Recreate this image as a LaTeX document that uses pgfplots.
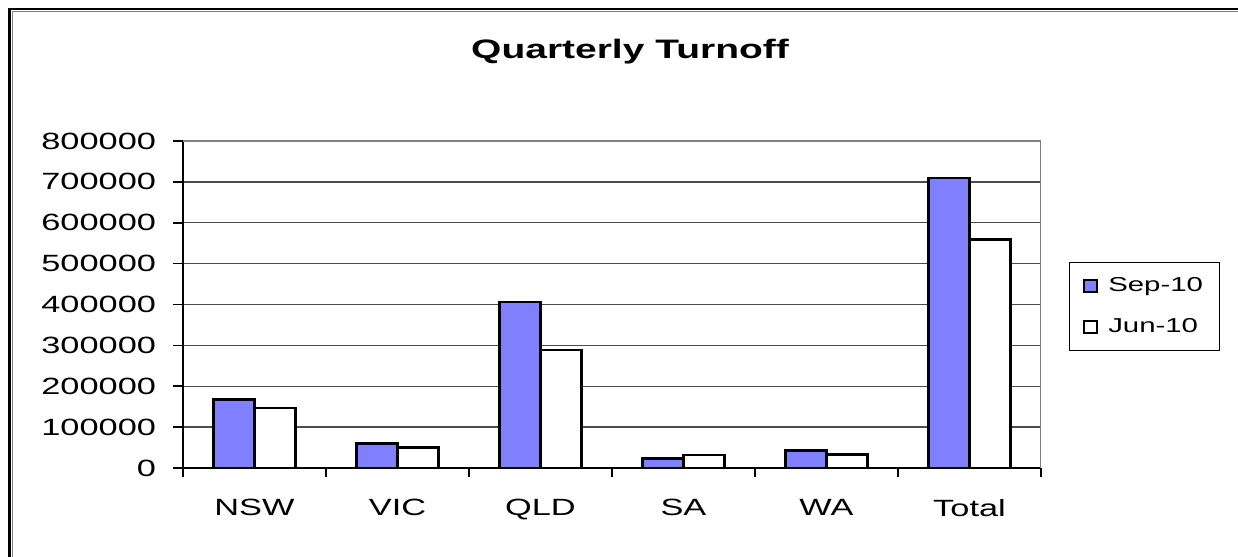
\documentclass[border=0pt]{standalone}
\usepackage{fontspec}
\setmainfont[FakeStretch=1.46]{Liberation Sans}
\usepackage{pgfplots}
\pgfplotsset{compat=1.18}
\definecolor{barblue}{RGB}{128,128,255}
\begin{document}
\begin{tikzpicture}
\useasboundingbox (0,0) rectangle (619bp,278.5bp);
% outer frame
\draw[black,line width=1.4bp] (4.6bp,0) -- (4.6bp,274bp) -- (619bp,274bp);
\draw[gray,line width=0.6bp] (6.2bp,0) -- (6.2bp,272.6bp) -- (619bp,272.6bp);
\node[font=\fontsize{13.4}{16}\selectfont\bfseries] at (315bp,252.5bp) {Quarterly Turnoff};
\begin{axis}[
  at={(91.5bp,44.5bp)}, anchor=south west,
  width=429bp, height=163.5bp, scale only axis,
  ybar=0pt, bar width=20.5bp,
  xmin=-0.5, xmax=5.5, ymin=0, ymax=800000,
  xtick={0,...,5},
  xticklabels={NSW,VIC,QLD,SA,WA,Total},
  minor xtick={-0.5,0.5,...,5.5},
  ytick={0,100000,200000,300000,400000,500000,600000,700000,800000},
  yticklabels={0,100000,200000,300000,400000,500000,600000,700000,800000},
  scaled y ticks=false,
  axis x line*=bottom, axis y line*=left,
  axis line style={black,line width=0.8bp},
  tick align=outside,
  major tick length=5bp, minor tick length=4.5bp,
  major x tick style={draw=none},
  minor x tick style={black,line width=0.8bp},
  major y tick style={black,line width=0.8bp},
  ymajorgrids, major grid style={black!70,line width=0.65bp},
  ticklabel style={font=\fontsize{11.8}{14}\selectfont},
  yticklabel style={xshift=-5bp},
  xticklabel style={yshift=-7bp},
  legend style={at={(1.0326,0.63)}, anchor=north west, draw=black, line width=0.5bp,
    font=\fontsize{10.1}{12}\selectfont, inner xsep=7bp, inner ysep=6.5bp, row sep=10bp,
    column sep=4bp, nodes={inner sep=1bp}},
  legend cell align=left,
  legend image code/.code={\draw[#1,line width=0.9bp] (0bp,-3bp) rectangle (6.5bp,3bp);},
]
\addplot[draw=black, fill=barblue, line width=1.3bp] coordinates {
 (0,168300) (1,59800) (2,406600) (3,23700) (4,42400) (5,709800)};
\addplot[draw=black, fill=white, line width=1.3bp] coordinates {
 (0,146300) (1,49500) (2,288800) (3,31700) (4,33600) (5,559500)};
\legend{Sep-10, Jun-10}
\draw[gray,line width=0.8bp] (rel axis cs:0,1) -- (rel axis cs:1,1) -- (rel axis cs:1,0);
\end{axis}
\end{tikzpicture}
\end{document}
